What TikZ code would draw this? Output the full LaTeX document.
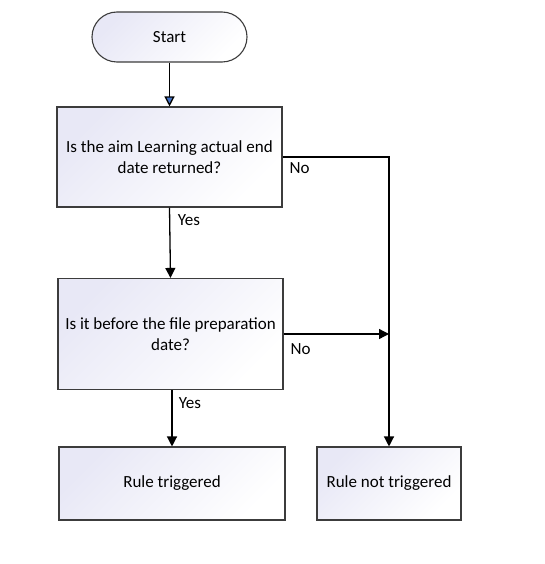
\documentclass[tikz,border=0pt]{standalone}
\usepackage{fontspec}
\setmainfont{Carlito}
\usetikzlibrary{arrows.meta}
\definecolor{lav}{RGB}{232,232,246}
\definecolor{boxline}{RGB}{60,60,60}
\definecolor{arrowblue}{RGB}{68,114,196}
\tikzset{
  boxstyle/.style={draw=boxline, line width=1.1pt, top color=lav, bottom color=white, shading angle=45,
    inner sep=0pt, align=center, font=\fontsize{17}{21}\selectfont},
  flow/.style={draw=black, line width=1.3pt, -{Triangle[length=10pt,width=10pt]}},
  lbl/.style={font=\fontsize{17}{20}\selectfont, inner sep=0pt}
}
\begin{document}
\begin{tikzpicture}[x=1pt,y=-1pt]
\useasboundingbox (0,0) rectangle (544,564);
\node[boxstyle, rounded corners=25pt, minimum width=155pt, minimum height=50pt] (start) at (169.5,37) {Start};
\node[boxstyle, minimum width=225pt, minimum height=100pt] (b1) at (169.5,157) {Is the aim Learning actual end\\date returned?};
\node[boxstyle, minimum width=225pt, minimum height=111pt] (b2) at (170.5,334) {Is it before the file preparation\\date?};
\node[boxstyle, minimum width=226pt, minimum height=73pt] (rt) at (172,483.5) {Rule triggered};
\node[boxstyle, minimum width=144pt, minimum height=73pt] (rnt) at (389,483.5) {Rule not triggered};
\draw[line width=1.3pt, -{Triangle[length=10pt,width=10pt,fill=arrowblue]}] (start.south) -- (b1.north);
\draw[flow] (b1.south) -- (b2.north);
\draw[flow] (b2.south -| rt.north) -- (rt.north);
\draw[flow] (b1.east) -| (rnt.north);
\draw[flow] (b2.east) -- (b2.east -| rnt.north);
\node[lbl] (no1) at (299.5,168) {No};
\node[lbl] (yes1) at (189,220) {Yes};
\node[lbl] (no2) at (300.5,349) {No};
\node[lbl] (yes2) at (190,403) {Yes};
\end{tikzpicture}
\end{document}
